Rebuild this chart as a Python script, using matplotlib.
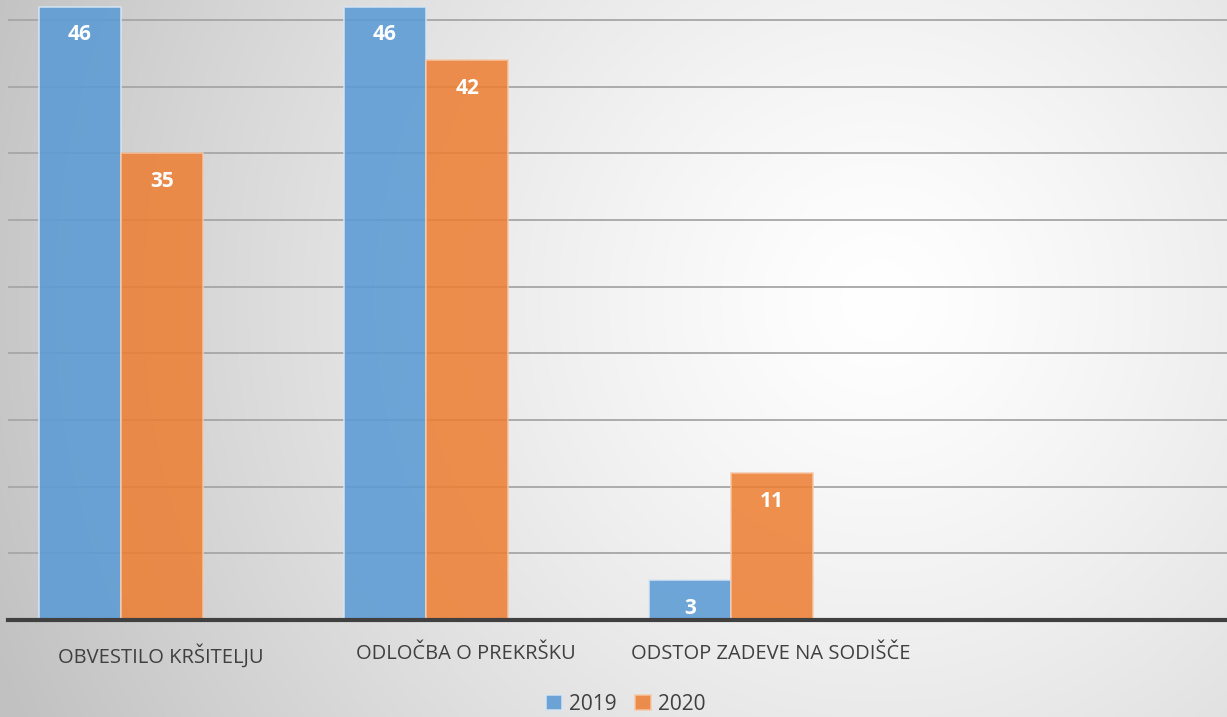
import matplotlib
matplotlib.use("Agg")
import matplotlib.pyplot as plt
import numpy as np

categories = ["OBVESTILO KRŠITELJU", "ODLOČBA O PREKRŠKU", "ODSTOP ZADEVE NA SODIŠČE"]
years = ["2019", "2020"]
v2019 = [46, 46, 3]
v2020 = [35, 42, 11]

plt.rcParams['font.family'] = ['Open Sans', 'DejaVu Sans']

fig = plt.figure(figsize=(12.27, 7.17), dpi=100)

# radial gradient background
bg = fig.add_axes([0, 0, 1, 1], zorder=-10)
W, H = 1227, 717
xx, yy = np.meshgrid(np.arange(W), np.arange(H))
cx, cy = 880, 300
r = np.sqrt((xx - cx) ** 2 + (yy - cy) ** 2) / 950.0
shade = 1.0 - 0.24 * np.clip(r, 0, 1) ** 1.3
bg.imshow(np.dstack([shade] * 3), extent=[0, 1, 0, 1], aspect='auto', origin='upper')
bg.axis('off')

ax = fig.add_axes([8 / W, 97 / H, (W - 8) / W, (H - 97) / H])
ax.patch.set_alpha(0)

x = np.arange(len(categories))
w = 0.27
b1 = ax.bar(x - w / 2, v2019, w, color='#5B9BD5', alpha=0.88, edgecolor='#d8e6f4', linewidth=1.2, label=years[0], zorder=3)
b2 = ax.bar(x + w / 2, v2020, w, color='#ED7D31', alpha=0.85, edgecolor='#f6c8a8', linewidth=1.2, label=years[1], zorder=3)

for bars in (b1, b2):
    for rect in bars:
        h = rect.get_height()
        ax.text(rect.get_x() + rect.get_width() / 2, h - 2.1, str(int(h)), ha='center', va='center',
                color='white', fontsize=15, fontweight='bold', zorder=5)

ax.set_xlim(-0.37, 3.626)
ax.set_ylim(0, 46.5)
ax.set_yticks(np.arange(5, 46, 5))
ax.yaxis.grid(True, color='#a6a6a6', linewidth=1.3, zorder=1)
ax.tick_params(axis='y', length=0, labelleft=False)
ax.set_xticks(x + 0.131)
ax.set_xticklabels(categories, fontsize=14.5, color='#404040')
ax.tick_params(axis='x', length=0, pad=17)
for s in ['top', 'right', 'left']:
    ax.spines[s].set_visible(False)
ax.spines['bottom'].set_color('#404040')
ax.spines['bottom'].set_linewidth(3)
ax.spines['bottom'].set_zorder(6)

fig.legend(loc='center', bbox_to_anchor=(626 / W, 1 - 704 / H), ncol=2, frameon=False,
           fontsize=15, handlelength=0.75, handleheight=0.75, handletextpad=0.35, columnspacing=0.9,
           labelcolor='#404040')

fig.savefig('out.png', dpi=100)
